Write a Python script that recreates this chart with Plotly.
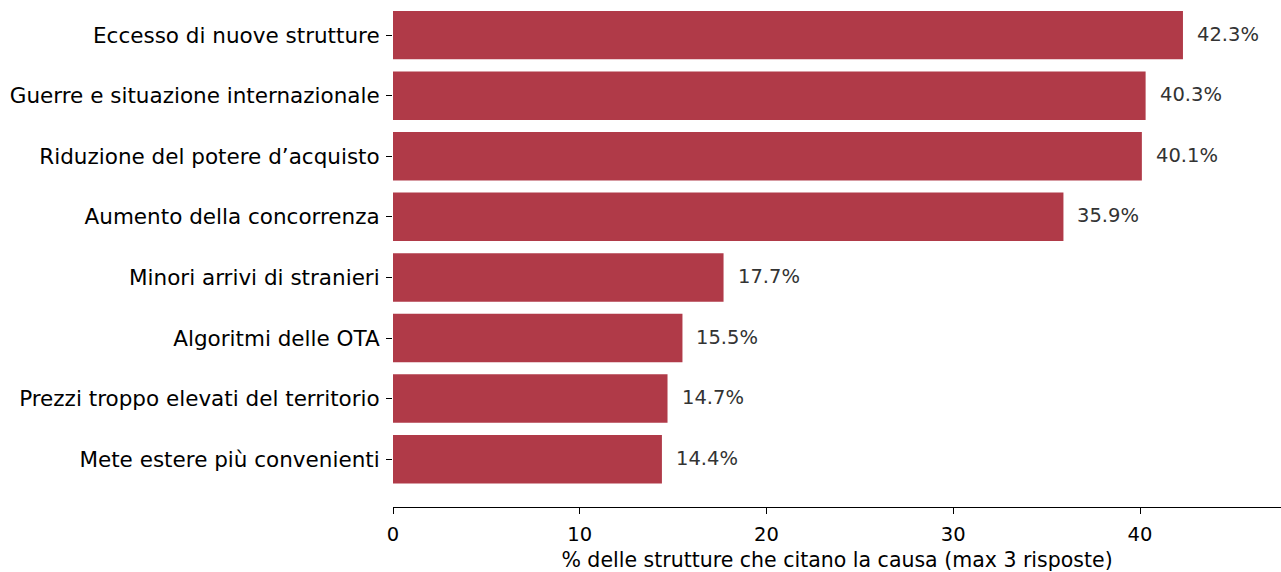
import plotly.graph_objects as go

# categories bottom -> top
cause = [
    "Mete estere più convenienti",
    "Prezzi troppo elevati del territorio",
    "Algoritmi delle OTA",
    "Minori arrivi di stranieri",
    "Aumento della concorrenza",
    "Riduzione del potere d’acquisto",
    "Guerre e situazione internazionale",
    "Eccesso di nuove strutture",
]
share = [14.4, 14.7, 15.5, 17.7, 35.9, 40.1, 40.3, 42.3]
xticks = [0, 10, 20, 30, 40]

font = "DejaVu Sans"

fig = go.Figure()
fig.add_trace(go.Bar(
    x=share, y=cause, orientation="h",
    marker=dict(color="#B03A48", line=dict(width=0)),
    width=0.8,
))

# value labels next to the bars
for c, v in zip(cause, share):
    fig.add_annotation(
        x=v, y=c, text=f"{v:.1f}%", showarrow=False,
        xanchor="left", xshift=12, yshift=1,
        font=dict(family=font, size=19.5, color="#333333"),
    )

fig.update_layout(
    width=1281, height=572,
    margin=dict(l=393, r=0, t=0, b=65),
    plot_bgcolor="white", paper_bgcolor="white",
    showlegend=False,
    font=dict(family=font, size=19, color="black"),
    bargap=0.2,
)
fig.update_xaxes(
    range=[0, 47.55], tickvals=xticks,
    showline=True, linecolor="black", linewidth=1.3,
    ticks="outside", ticklen=6, tickcolor="black",
    tickfont=dict(size=19.5), ticklabelstandoff=3,
    showgrid=False, zeroline=False,
    title=dict(text="% delle strutture che citano la causa (max 3 risposte)",
               font=dict(size=20.5), standoff=11),
)
fig.update_yaxes(
    categoryorder="array", categoryarray=cause,
    range=[-0.79, 7.58],
    tickfont=dict(size=21.5), ticklabelstandoff=2,
    showline=False, showgrid=False, zeroline=False,
    ticks="outside", ticklen=6, tickcolor="black",
)

fig.write_html("out.html", config={"displayModeBar": False},
               post_script="document.body.style.margin='0';")
